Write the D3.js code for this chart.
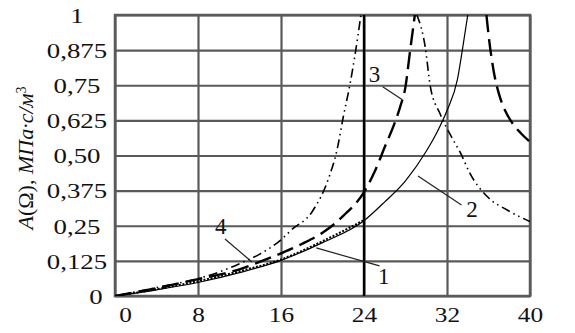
<!DOCTYPE html>
<html>
<head>
<meta charset="utf-8">
<script src="https://cdn.jsdelivr.net/npm/d3@7"></script>
<style>
  body { margin: 0; background: #fff; }
  svg { display: block; }
  text { font-family: "Liberation Serif", "Times New Roman", serif; fill: #111; }
</style>
</head>
<body>
<div id="chart"></div>
<script>
// tick values and labels
const xTicks = [0, 8, 16, 24, 32, 40];
const yTicks = [0, 0.125, 0.25, 0.375, 0.5, 0.625, 0.75, 0.875, 1];
const yTickLabels = ["0", "0,125", "0,25", "0,375", "0,50", "0,625", "0,75", "0,875", "1"];

// curve 1 (dotted)
const curve1X = [0, 4, 8, 12, 16, 20, 24];
const curve1Y = [0, 0.024, 0.053, 0.088, 0.13, 0.195, 0.27];

// curve 2 (thin solid)
const curve2X = [0, 4, 8, 12, 16, 20, 24, 26, 28, 30, 31, 32, 33, 33.5, 34];
const curve2Y = [0, 0.022, 0.048, 0.083, 0.127, 0.19, 0.268, 0.335, 0.41, 0.515, 0.58, 0.66, 0.77, 0.88, 1.0];

// curve 3 (long dash), two branches around the resonance
const curve3RiseX = [0, 4, 8, 12, 14, 16, 18, 20, 22, 24, 25, 26, 27, 27.5, 28, 28.4, 28.9];
const curve3RiseY = [0, 0.028, 0.06, 0.095, 0.122, 0.152, 0.185, 0.225, 0.285, 0.37, 0.44, 0.53, 0.62, 0.675, 0.745, 0.86, 1.0];
const curve3FallX = [35.8, 36.1, 36.5, 37, 37.6, 38.3, 39.1, 40];
const curve3FallY = [1.0, 0.9, 0.8, 0.72, 0.66, 0.615, 0.58, 0.548];

// curve 4 (dash-dot-dot)
const curve4RiseX = [0, 4, 8, 10, 12, 14, 16, 17, 19, 20.6, 21.4, 22, 22.6, 23.1, 23.7];
const curve4RiseY = [0, 0.03, 0.062, 0.085, 0.115, 0.15, 0.2, 0.235, 0.3, 0.42, 0.52, 0.637, 0.744, 0.85, 1.0];
const curve4FallX = [29.1, 29.9, 30.4, 31.3, 32.6, 33.3, 34.2, 35.9, 37.8, 40];
const curve4FallY = [1.0, 0.886, 0.744, 0.651, 0.555, 0.509, 0.437, 0.353, 0.306, 0.265];

// curve number labels with leader lines
const labelNames = ["1", "2", "3", "4"];
const labelPos = [[25.9, 0.07], [34.4, 0.31], [25, 0.79], [10.2, 0.25]];
const leaderFrom = [[19.4, 0.171], [29.2, 0.427], [25.8, 0.745], [10.6, 0.203]];
const leaderTo = [[25.5, 0.107], [33.4, 0.324], [27.7, 0.698], [13.2, 0.121]];

const margin = { top: 15, right: 45, bottom: 37, left: 115 };
const width = 575 - margin.left - margin.right;
const height = 333 - margin.top - margin.bottom;

const svg = d3.select("#chart")
    .append("svg")
    .attr("width", 575)
    .attr("height", 333);

const g = svg.append("g")
    .attr("transform", `translate(${margin.left},${margin.top})`);

const x = d3.scaleLinear().domain([0, 40]).range([0, width]);
const y = d3.scaleLinear().domain([0, 1]).range([height, 0]);

// grid
g.append("g")
    .attr("transform", `translate(0,${height})`)
    .call(d3.axisBottom(x).tickValues(xTicks).tickSize(-height).tickFormat(""))
    .call(a => a.select(".domain").remove())
    .selectAll("line")
    .attr("stroke", "#5a5a5a")
    .attr("stroke-width", 2.2);

g.append("g")
    .call(d3.axisLeft(y).tickValues(yTicks).tickSize(-width).tickFormat(""))
    .call(a => a.select(".domain").remove())
    .selectAll("line")
    .attr("stroke", "#5a5a5a")
    .attr("stroke-width", 2.2);

g.append("rect")
    .attr("width", width)
    .attr("height", height)
    .attr("fill", "none")
    .attr("stroke", "#5a5a5a")
    .attr("stroke-width", 2.5);

// black vertical line at 24
g.append("line")
    .attr("x1", x(24)).attr("x2", x(24))
    .attr("y1", 0).attr("y2", height)
    .attr("stroke", "#000")
    .attr("stroke-width", 2.4);

// tick labels
const xAxis = g.append("g")
    .attr("transform", `translate(0,${height})`)
    .call(d3.axisBottom(x).tickValues(xTicks).tickSize(0).tickPadding(0).tickFormat(d3.format("d")));
xAxis.select(".domain").remove();
xAxis.selectAll("text")
    .attr("font-size", 22)
    .attr("font-family", null)
    .attr("dy", null)
    .attr("y", 0)
    .attr("x", 0)
    .attr("transform", d => `translate(${d === 0 ? 10 : 0},26) scale(1.15,1)`);

const yAxis = g.append("g")
    .call(d3.axisLeft(y).tickValues(yTicks).tickSize(0).tickFormat((d, i) => yTickLabels[i]));
yAxis.select(".domain").remove();
yAxis.selectAll("text")
    .attr("font-size", 22)
    .attr("font-family", null)
    .attr("text-anchor", "middle")
    .attr("x", 0)
    .attr("dy", "0.33em")
    .attr("transform", d => `translate(${d === 0 ? -19 : -38},0) scale(1.22,1)`);

// y axis title
const title = svg.append("text")
    .attr("transform", "translate(33,158) rotate(-90)")
    .attr("text-anchor", "middle")
    .attr("font-size", 22);
title.append("tspan").attr("font-style", "italic").text("A");
title.append("tspan").text("(Ω),  ");
title.append("tspan").attr("font-style", "italic").text("МПа·с/м");
title.append("tspan").attr("font-size", 14).attr("baseline-shift", "super").text("3");

// curves
svg.append("clipPath").attr("id", "plotClip")
    .append("rect").attr("width", width).attr("height", height);

const line = d3.line()
    .x(d => x(d[0]))
    .y(d => y(d[1]))
    .curve(d3.curveMonotoneX);

const zip = (xs, ys) => xs.map((v, i) => [v, ys[i]]);

const curves = [
    { data: zip(curve1X, curve1Y), dash: "2,1.6", w: 2 },
    { data: zip(curve2X, curve2Y), dash: null, w: 1.2 },
    { data: zip(curve3RiseX, curve3RiseY), dash: "17,7", w: 2.4 },
    { data: zip(curve3FallX, curve3FallY), dash: "17,7", w: 2.4 },
    { data: zip(curve4RiseX, curve4RiseY), dash: "9,4,1.5,4,1.5,4", w: 1.6 },
    { data: zip(curve4FallX, curve4FallY), dash: "9,4,1.5,4,1.5,4", w: 1.6 }
];

g.append("g")
    .attr("clip-path", "url(#plotClip)")
    .selectAll("path")
    .data(curves)
    .enter()
    .append("path")
    .attr("d", d => line(d.data))
    .attr("fill", "none")
    .attr("stroke", "#000")
    .attr("stroke-width", d => d.w)
    .attr("stroke-dasharray", d => d.dash);

// leaders and labels
g.selectAll("line.leader")
    .data(labelNames)
    .enter()
    .append("line")
    .attr("class", "leader")
    .attr("x1", (d, i) => x(leaderFrom[i][0]))
    .attr("y1", (d, i) => y(leaderFrom[i][1]))
    .attr("x2", (d, i) => x(leaderTo[i][0]))
    .attr("y2", (d, i) => y(leaderTo[i][1]))
    .attr("stroke", "#222")
    .attr("stroke-width", 1.2);

g.selectAll("text.curveLabel")
    .data(labelNames)
    .enter()
    .append("text")
    .attr("class", "curveLabel")
    .attr("x", (d, i) => x(labelPos[i][0]))
    .attr("y", (d, i) => y(labelPos[i][1]))
    .attr("text-anchor", "middle")
    .attr("dy", "0.35em")
    .attr("font-size", 23)
    .text(d => d);
</script>
</body>
</html>
